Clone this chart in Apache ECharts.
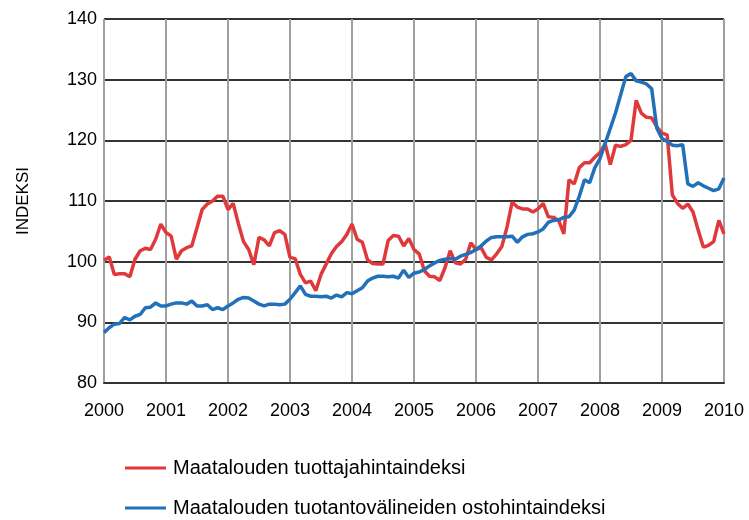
<!DOCTYPE html>
<html>
<head>
<meta charset="utf-8">
<script src="https://cdn.jsdelivr.net/npm/echarts@6/dist/echarts.min.js"></script>
<style>html,body{margin:0;padding:0;background:#fff;}#c{width:749px;height:520px;}</style>
</head>
<body>
<div id="c"></div>
<script>
const startYear = 2000;
const yearTicks = [2000,2001,2002,2003,2004,2005,2006,2007,2008,2009,2010];
const seriesNames = ["Maatalouden tuottajahintaindeksi","Maatalouden tuotantovälineiden ostohintaindeksi"];
// monthly values Jan 2000 .. Jan 2010
const producer = [
 100.2,100.8,97.9,98.0,98.0,97.5,100.4,101.8,102.2,102.0,103.7,106.2,
 104.8,104.2,100.4,101.8,102.3,102.6,105.6,108.6,109.5,110.0,110.8,110.8,
 108.6,109.6,106.3,103.3,102.0,99.5,104.0,103.6,102.6,104.8,105.1,104.5,
 100.7,100.5,97.9,96.5,96.8,95.2,97.9,99.6,101.3,102.5,103.3,104.5,
 106.2,103.7,103.2,100.3,99.7,99.6,99.6,103.5,104.3,104.2,102.6,103.8,
 102.0,101.3,98.5,97.6,97.5,96.9,99.0,101.8,99.8,99.6,100.4,103.1,
 102.0,102.3,100.7,100.3,101.3,102.5,105.7,109.8,109.0,108.7,108.7,108.2,
 108.7,109.6,107.4,107.3,106.8,104.6,113.5,112.8,115.5,116.3,116.3,117.2,
 118.0,119.4,116.0,119.2,119.0,119.3,120.0,126.6,124.5,123.8,123.7,122.2,
 121.2,120.9,111.0,109.6,108.8,109.5,108.2,105.2,102.4,102.7,103.3,106.8,
 104.6
];
const inputs = [
 88.3,89.1,89.7,89.8,90.8,90.4,91.0,91.3,92.4,92.5,93.2,92.7,
 92.7,93.0,93.2,93.2,93.0,93.5,92.7,92.7,92.9,92.1,92.4,92.1,
 92.7,93.2,93.8,94.1,94.0,93.5,93.0,92.7,93.0,93.0,92.9,93.0,
 93.8,94.9,96.0,94.6,94.3,94.3,94.2,94.3,94.0,94.5,94.2,94.9,
 94.7,95.2,95.7,96.8,97.3,97.6,97.6,97.5,97.6,97.3,98.6,97.4,
 98.1,98.3,98.7,99.3,99.8,100.2,100.4,100.5,100.4,100.9,101.2,101.5,
 102.0,102.6,103.4,104.0,104.1,104.1,104.1,104.2,103.2,104.1,104.5,104.6,
 104.9,105.4,106.5,106.8,106.9,107.3,107.4,108.5,110.8,113.5,113.0,115.5,
 117.0,119.5,122.0,124.5,127.5,130.5,131.0,129.8,129.6,129.3,128.5,122.0,
 120.3,119.8,119.2,119.1,119.3,112.8,112.4,113.0,112.5,112.1,111.7,112.0,
 113.8
];
const yAxisName = "INDEKSI";

const font = "'Liberation Sans', Arial, sans-serif";
const colors = ['#E0393C','#2270B9'];
const legendBase = {
  orient:'horizontal', left:125, itemWidth:41, itemHeight:3, itemGap:10,
  icon:'rect', padding:0,
  textStyle:{fontFamily:font,fontSize:20,color:'#000',padding:[0,0,0,2]}
};
const chart = echarts.init(document.getElementById('c'), null, {renderer:'canvas'});
chart.setOption({
  animation:false,
  backgroundColor:'#fff',
  grid:{left:104,right:25,top:19,bottom:137},
  legend:[
    Object.assign({}, legendBase, {top:458, data:[seriesNames[0]]}),
    Object.assign({}, legendBase, {top:498, data:[seriesNames[1]]})
  ],
  xAxis:{
    type:'value', min:0, max:(yearTicks.length-1)*12, interval:12,
    axisLine:{show:true,lineStyle:{color:'#333',width:2}},
    axisTick:{show:false},
    axisLabel:{margin:19,fontFamily:font,fontSize:18,color:'#000',
      formatter:v=>String(startYear+Math.round(v/12))},
    splitLine:{show:true,lineStyle:{color:'#a0a0a0',width:2}}
  },
  yAxis:{
    type:'value', min:80, max:140, interval:10,
    name:yAxisName, nameLocation:'middle', nameGap:72,
    nameTextStyle:{fontFamily:font,fontSize:17,color:'#000'},
    axisLine:{show:false}, axisTick:{show:false},
    axisLabel:{margin:7,fontFamily:font,fontSize:18,color:'#000'},
    splitLine:{show:true,lineStyle:{color:'#333',width:2}}
  },
  series:[
    {name:seriesNames[0],type:'line',showSymbol:false,
     lineStyle:{color:colors[0],width:3.5},itemStyle:{color:colors[0]},
     data:producer.map((v,i)=>[i,v])},
    {name:seriesNames[1],type:'line',showSymbol:false,
     lineStyle:{color:colors[1],width:3.5},itemStyle:{color:colors[1]},
     data:inputs.map((v,i)=>[i,v])}
  ]
});
</script>
</body>
</html>
